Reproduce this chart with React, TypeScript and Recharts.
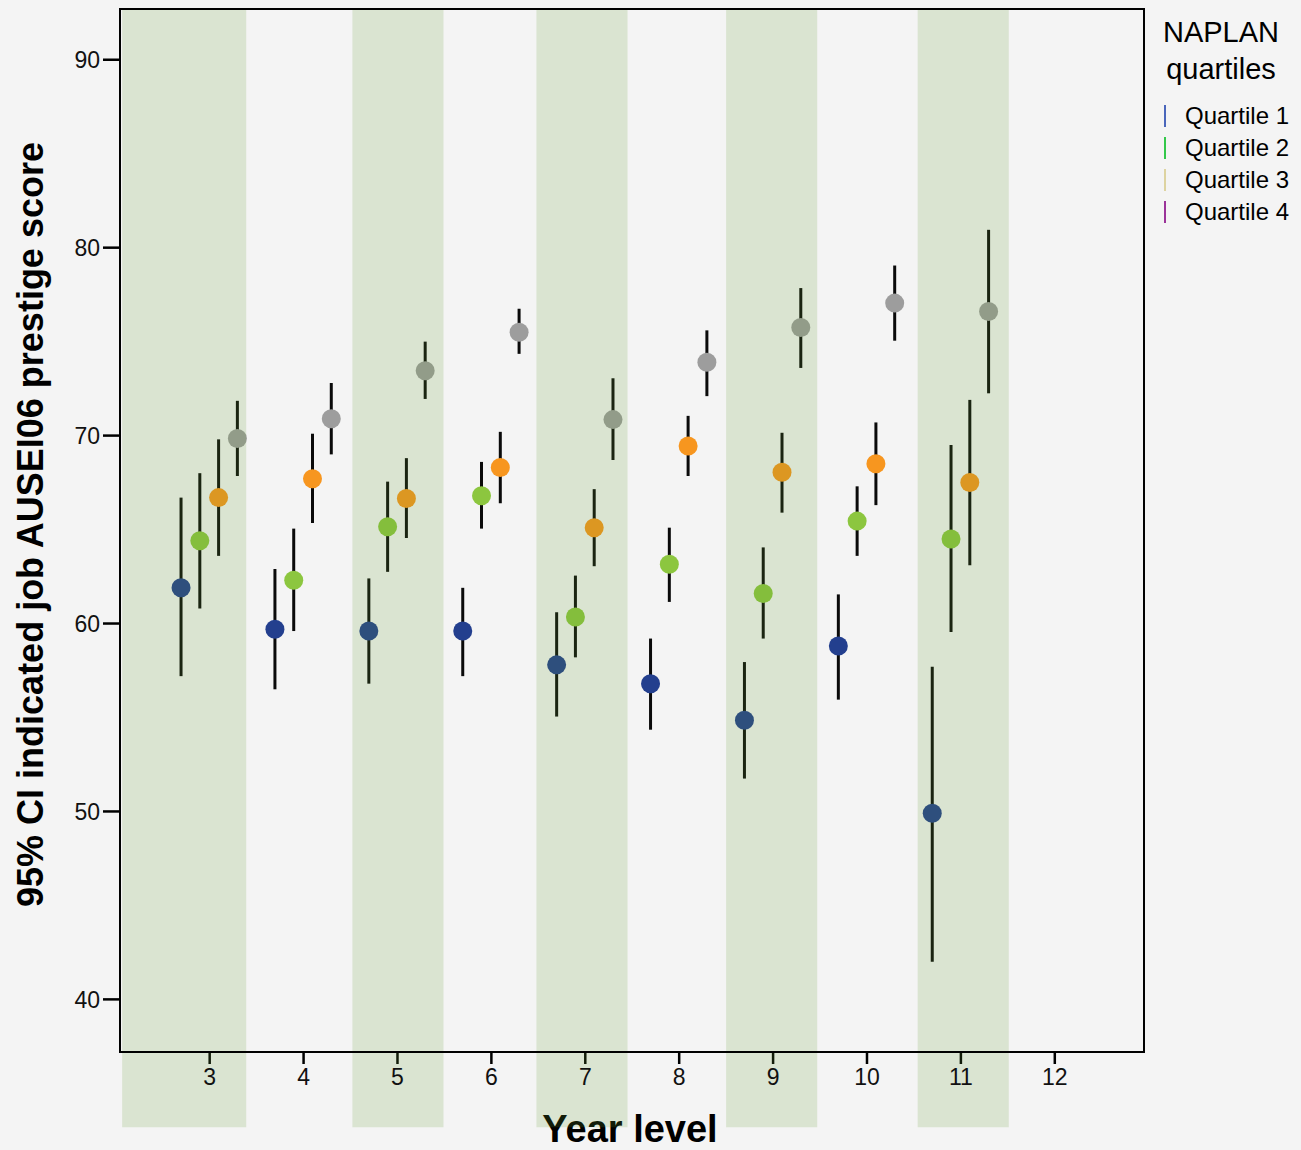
import React from "react";
import {
  ScatterChart,
  Scatter,
  XAxis,
  YAxis,
  ErrorBar,
  ReferenceArea,
} from "recharts";

const FONT = '"Liberation Sans", Arial, Helvetica, sans-serif';

// year levels and axis ticks
const years = [3, 4, 5, 6, 7, 8, 9, 10, 11];
const yearTicks = [3, 4, 5, 6, 7, 8, 9, 10, 11, 12];
const scoreTicks = [40, 50, 60, 70, 80, 90];

const quartileNames = ["Quartile 1", "Quartile 2", "Quartile 3", "Quartile 4"];

// mean and 95% CI per quartile, one value per year level
const q1Mean = [61.9, 59.7, 59.6, 59.6, 57.8, 56.8, 54.85, 58.8, 49.9];
const q1Low = [57.2, 56.5, 56.8, 57.2, 55.05, 54.35, 51.75, 55.95, 42.0];
const q1High = [66.7, 62.9, 62.4, 61.9, 60.6, 59.2, 57.95, 61.55, 57.7];

const q2Mean = [64.4, 62.3, 65.15, 66.8, 60.35, 63.15, 61.6, 65.45, 64.5];
const q2Low = [60.8, 59.6, 62.75, 65.05, 58.2, 61.15, 59.2, 63.6, 59.55];
const q2High = [68.0, 65.05, 67.55, 68.6, 62.55, 65.1, 64.05, 67.3, 69.5];

const q3Mean = [66.7, 67.7, 66.65, 68.3, 65.1, 69.45, 68.05, 68.5, 67.5];
const q3Low = [63.6, 65.35, 64.55, 66.4, 63.05, 67.85, 65.9, 66.3, 63.1];
const q3High = [69.8, 70.1, 68.8, 70.2, 67.15, 71.05, 70.15, 70.7, 71.9];

const q4Mean = [69.85, 70.9, 73.45, 75.5, 70.85, 73.9, 75.75, 77.05, 76.6];
const q4Low = [67.85, 69.0, 71.95, 74.35, 68.7, 72.1, 73.6, 75.05, 72.25];
const q4High = [71.85, 72.8, 75.0, 76.75, 73.05, 75.6, 77.85, 79.05, 80.95];

// shaded year columns
const bandStart = [2.068, 4.52, 6.48, 8.5, 10.54];
const bandEnd = [3.389, 5.49, 7.45, 9.47, 11.51];

const dotColors = ["#233f8e", "#8cc63f", "#f7961f", "#9d9d9d"];
const legendColors = ["#4a66bb", "#33c84a", "#ddd3a0", "#9b3399"];
const dodge = [-0.305, -0.105, 0.095, 0.295];

const X_DOMAIN: [number, number] = [2.045, 12.95];
const Y_DOMAIN: [number, number] = [37.2, 92.7];
const BAND_BOTTOM = 33.2;

const series = [
  { mean: q1Mean, low: q1Low, high: q1High },
  { mean: q2Mean, low: q2Low, high: q2High },
  { mean: q3Mean, low: q3Low, high: q3High },
  { mean: q4Mean, low: q4Low, high: q4High },
].map((s, qi) =>
  years.map((yr, i) => ({
    x: yr + dodge[qi],
    y: s.mean[i],
    err: [s.mean[i] - s.low[i], s.high[i] - s.mean[i]],
  }))
);

const XTitle = (props: any) => {
  const { x, y, width } = props.viewBox;
  return (
    <text
      x={x + width / 2 - 2}
      y={y + 90}
      textAnchor="middle"
      fontSize={38}
      fontWeight="bold"
      fill="#000"
      fontFamily={FONT}
    >
      Year level
    </text>
  );
};

const YTitle = (props: any) => {
  const { y, height } = props.viewBox;
  const cy = y + height / 2 - 6;
  return (
    <text
      x={30}
      y={cy}
      transform={`rotate(-90, 30, ${cy})`}
      textAnchor="middle"
      dominantBaseline="central"
      fontSize={36}
      fontWeight="bold"
      fill="#000"
      fontFamily={FONT}
    >
      95% CI indicated job AUSEI06 prestige score
    </text>
  );
};

const LegendBox = () => (
  <div
    style={{
      position: "absolute",
      left: 1162,
      top: 14,
      fontFamily: FONT,
      color: "#000",
    }}
  >
    <div style={{ width: 118, textAlign: "center", fontSize: 29, lineHeight: "37px" }}>
      NAPLAN
      <br />
      quartiles
    </div>
    <div style={{ marginTop: 12 }}>
      {quartileNames.map((name, i) => (
        <div
          key={name}
          style={{ display: "flex", alignItems: "center", height: 32, fontSize: 24 }}
        >
          <span
            style={{
              display: "inline-block",
              width: 2,
              height: 22,
              background: legendColors[i],
              marginLeft: 2,
              marginRight: 19,
            }}
          />
          <span>{name}</span>
        </div>
      ))}
    </div>
  </div>
);

export default function App() {
  return (
    <div
      style={{
        position: "absolute",
        left: 0,
        top: 0,
        width: 1301,
        height: 1150,
        background: "#f4f4f4",
        fontFamily: FONT,
        overflow: "hidden",
      }}
    >
      <ScatterChart
        width={1301}
        height={1150}
        margin={{ top: 9, right: 157, bottom: 0, left: 0 }}
      >
        <XAxis
          type="number"
          dataKey="x"
          domain={X_DOMAIN}
          ticks={yearTicks}
          allowDataOverflow
          height={98}
          tickSize={12}
          tickMargin={5}
          axisLine={{ stroke: "#000", strokeWidth: 2 }}
          tickLine={{ stroke: "#000", strokeWidth: 2.5 }}
          tick={{ fill: "#111", fontSize: 23 }}
          label={<XTitle />}
        />
        <YAxis
          type="number"
          dataKey="y"
          domain={Y_DOMAIN}
          ticks={scoreTicks}
          allowDataOverflow
          width={120}
          tickSize={17}
          tickMargin={3}
          axisLine={{ stroke: "#000", strokeWidth: 2 }}
          tickLine={{ stroke: "#000", strokeWidth: 2.5 }}
          tick={{ fill: "#111", fontSize: 23 }}
          label={<YTitle />}
        />
        {series.map((data, qi) => (
          <Scatter
            key={quartileNames[qi]}
            name={quartileNames[qi]}
            data={data}
            isAnimationActive={false}
            shape={(p: any) => (
              <circle cx={p.cx} cy={p.cy} r={9.5} fill={dotColors[qi]} />
            )}
          >
            <ErrorBar
              dataKey="err"
              direction="y"
              width={0}
              stroke="#0a0a0a"
              strokeWidth={3}
              isAnimationActive={false}
            />
          </Scatter>
        ))}
        {bandStart.map((b, i) => (
          <ReferenceArea
            key={`band-${i}`}
            x1={b}
            x2={bandEnd[i]}
            y1={BAND_BOTTOM}
            y2={Y_DOMAIN[1]}
            ifOverflow="visible"
            fill="#669933"
            fillOpacity={0.18}
            stroke="none"
            zIndex={1000}
          />
        ))}
        <ReferenceArea
          x1={X_DOMAIN[0]}
          x2={X_DOMAIN[1]}
          y1={Y_DOMAIN[0]}
          y2={Y_DOMAIN[1]}
          ifOverflow="visible"
          fill="none"
          stroke="#000"
          strokeWidth={2}
          zIndex={1001}
        />
      </ScatterChart>
      <LegendBox />
    </div>
  );
}
